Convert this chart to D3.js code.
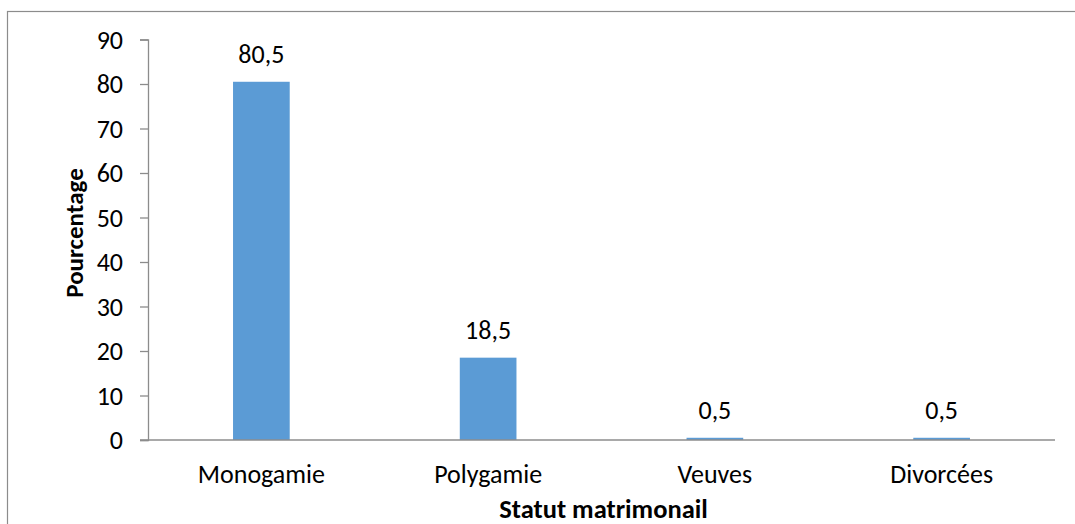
<!DOCTYPE html>
<html>
<head>
<meta charset="utf-8">
<script src="https://cdn.jsdelivr.net/npm/d3@7"></script>
<style>
  html, body { margin: 0; padding: 0; background: #fff; }
  svg { display: block; }
  text { font-family: Carlito, Lato, "Open Sans", sans-serif; fill: #000; }
</style>
</head>
<body>
<svg id="chart" width="1075" height="524"></svg>
<script>
// Répartition selon le statut matrimonial (%)
const categories = ["Monogamie", "Polygamie", "Veuves", "Divorcées"];
const values = [80.5, 18.5, 0.5, 0.5];
const yTicks = [0, 10, 20, 30, 40, 50, 60, 70, 80, 90];
const xTitle = "Statut matrimonail";
const yTitle = "Pourcentage";

const svg = d3.select("#chart");
const margin = { left: 148, top: 39.5 };
const plotRight = 1055;
const plotBottom = 440;
const axisColor = "#8c8c8c";

// chart frame
svg.append("rect")
  .attr("x", 7.5).attr("y", 11.5)
  .attr("width", 1100).attr("height", 600)
  .attr("fill", "#fff")
  .attr("stroke", axisColor)
  .attr("stroke-width", 1.2);

const x = d3.scaleBand()
  .domain(categories)
  .range([margin.left, plotRight])
  .paddingInner(0.75)
  .paddingOuter(0.375);

const y = d3.scaleLinear()
  .domain([0, 90])
  .range([plotBottom, margin.top]);

const fmt = v => String(v).replace(".", ",");

// bars
svg.append("g").selectAll("rect")
  .data(categories)
  .join("rect")
  .attr("x", d => x(d))
  .attr("width", x.bandwidth())
  .attr("y", (d, i) => y(values[i]))
  .attr("height", (d, i) => y(0) - y(values[i]))
  .attr("fill", "#5b9bd5");

// y axis
const yAxis = svg.append("g")
  .attr("transform", `translate(${margin.left},0)`)
  .call(d3.axisLeft(y).tickValues(yTicks).tickSize(8).tickPadding(17).tickFormat(d3.format("d")));
yAxis.select(".domain").attr("stroke", axisColor).attr("stroke-width", 1.3);
yAxis.selectAll(".tick line").attr("stroke", axisColor).attr("stroke-width", 1.3);
yAxis.selectAll(".tick text")
  .attr("font-size", 26)
  .attr("font-family", "Carlito, Lato, sans-serif")
  .attr("fill", "#000")
  .attr("dy", "0.34em");

// x axis
const xAxis = svg.append("g")
  .attr("transform", `translate(0,${plotBottom})`)
  .call(d3.axisBottom(x).tickSize(0).tickPadding(0).tickSizeOuter(0));
xAxis.select(".domain")
  .attr("d", `M${margin.left - 8},0H${plotRight}`)
  .attr("stroke", axisColor).attr("stroke-width", 1.3);
xAxis.selectAll(".tick text")
  .attr("font-size", 26)
  .attr("font-family", "Carlito, Lato, sans-serif")
  .attr("fill", "#000")
  .attr("y", 43)
  .attr("dy", 0);

// value labels
svg.append("g").selectAll("text")
  .data(categories)
  .join("text")
  .attr("x", d => x(d) + x.bandwidth() / 2)
  .attr("y", (d, i) => y(values[i]) - 19)
  .attr("text-anchor", "middle")
  .attr("font-size", 26)
  .text((d, i) => fmt(values[i]));

// axis titles
svg.append("text")
  .attr("x", 603.5)
  .attr("y", 517.5)
  .attr("text-anchor", "middle")
  .attr("font-size", 26.5)
  .attr("font-weight", "bold")
  .text(xTitle);

svg.append("text")
  .attr("transform", `translate(83,233) rotate(-90)`)
  .attr("text-anchor", "middle")
  .attr("font-size", 25)
  .attr("font-weight", "bold")
  .text(yTitle);
</script>
</body>
</html>
